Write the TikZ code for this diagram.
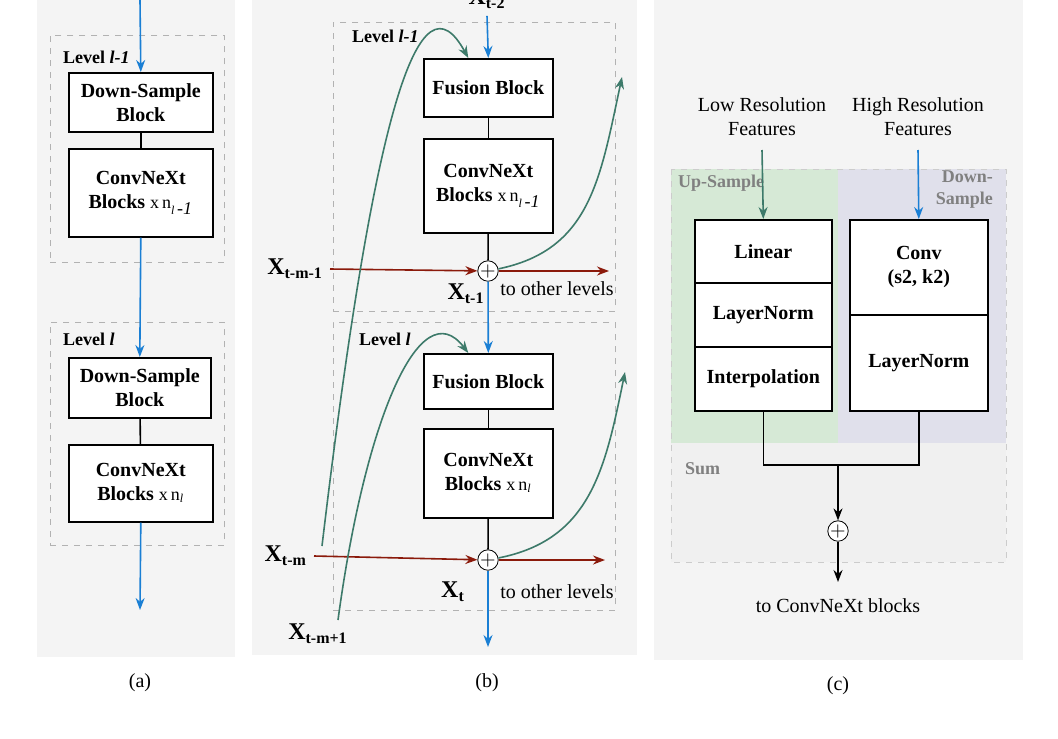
\documentclass[tikz,border=0pt]{standalone}
\usepackage{fontspec}
\setmainfont{Liberation Serif}
\usetikzlibrary{arrows.meta}
\definecolor{flowblue}{HTML}{1A7FD4}
\definecolor{flowred}{HTML}{8B1A0B}
\definecolor{flowgreen}{HTML}{3D7A6A}
\definecolor{panel}{HTML}{F4F4F4}
\begin{document}
\begin{tikzpicture}[
	x=0.5pt, y=-0.5pt,
	font=\bfseries,
	blk/.style={
		draw, thick, fill=white, align=center, anchor=north west
	},
	lvl/.style={
		draw=gray!60, dashed, anchor=north west
	},
	bl/.style={
		flowblue, thick, -{Stealth[length=6pt]}
	},
	rd/.style={
		flowred, thick, -{Stealth[length=6pt]}
	},
	gr/.style={
		flowgreen, thick, -{Stealth[length=6pt]}
	},
	sum/.style={
		draw, circle, fill=white, inner sep=0pt, minimum size=7pt
	},
	xl/.style={
		font=\bfseries\large
	}
	]
	\useasboundingbox (0,0) rectangle (1058,738);
	\clip (0,0) rectangle (1058,738);
	
	% panels
	\fill[panel] (37,0) rectangle (235,657);
	\fill[panel] (252,0) rectangle (637,655);
	\fill[panel] (654,0) rectangle (1023,660);
	\node[font=\normalfont] (capA) at (140,683) {(a)};
	\node[font=\normalfont] (capB) at (487,683) {(b)};
	\node[font=\normalfont] (capC) at (838,686) {(c)};
	
	% (a)
	\node[lvl, minimum width=87pt, minimum height=113.5pt] (LvA1) at (50,35) {};
	\node[anchor=west, font=\bfseries\small] at (56,57) {Level \textit{l-1}};
	\node[blk, minimum width=72pt, minimum height=29.5pt] (DsA1) at (68,72) {Down-Sample\\Block};
	\node[blk, minimum width=72pt, minimum height=44pt] (CnA1) at (68,148) {ConvNeXt\\Blocks {\normalfont\small x\,n$_{\mathit{l}\,\textit{-1}}$}};
	\node[lvl, minimum width=87pt, minimum height=111.5pt] (LvA2) at (50,322) {};
	\node[anchor=west, font=\bfseries\small] at (56,339) {Level \textit{l}};
	\node[blk, minimum width=71pt, minimum height=30pt] (DsA2) at (68,357) {Down-Sample\\Block};
	\node[blk, minimum width=72pt, minimum height=38.5pt] (CnA2) at (68,444) {ConvNeXt\\Blocks {\normalfont\small x\,n$_{\mathit{l}}$}};
	\coordinate (inA) at (140,0);
	\coordinate (outA) at (140,610);
	\draw[bl] (inA) -- (DsA1.north);
	\draw[thick] (DsA1) -- (CnA1);
	\draw[bl] (CnA1.south) -- (DsA2.north);
	\draw[thick] (DsA2) -- (CnA2);
	\draw[bl] (CnA2.south) -- (outA);
	
	% (b)
	\node[lvl, minimum width=141pt, minimum height=144.5pt] (LvB1) at (333,22) {};
	\node[anchor=west, font=\bfseries\small] at (345,36) {Level \textit{l-1}};
	\node[blk, minimum width=64.5pt, minimum height=29pt] (FuB1) at (423,58) {Fusion Block};
	\node[blk, minimum width=64.5pt, minimum height=47pt] (CnB1) at (423,138) {ConvNeXt\\Blocks {\normalfont\small x\,n$_{\mathit{l}\,\textit{-1}}$}};
	\node[sum] (SmB1) at (488,271) {$+$};
	\node[lvl, minimum width=141pt, minimum height=144pt] (LvB2) at (333,322) {};
	\node[anchor=west, font=\bfseries\small] at (352,339) {Level \textit{l}};
	\node[blk, minimum width=64.5pt, minimum height=27.5pt] (FuB2) at (423,353) {Fusion Block};
	\node[blk, minimum width=64.5pt, minimum height=44.5pt] (CnB2) at (423,428) {ConvNeXt\\Blocks {\normalfont\small x\,n$_{\mathit{l}}$}};
	\node[sum] (SmB2) at (488,560) {$+$};
	
	\node[xl] (Xt2) at (487,-1) {X\textsubscript{t-2}};
	\node[xl, anchor=east] (Xm1) at (330,269) {X\textsubscript{t-m-1}};
	\node[xl] (Xt1) at (466,294) {X\textsubscript{t-1}};
	\node[font=\normalfont] (Ot1) at (557,289) {to other levels};
	\node[xl, anchor=east] (Xm) at (314,556) {X\textsubscript{t-m}};
	\node[xl] (Xt) at (453,592) {X\textsubscript{t}};
	\node[font=\normalfont] (Ot2) at (557,592) {to other levels};
	\node[xl] (Xm2) at (318,634) {X\textsubscript{t-m+1}};
	\coordinate (OutR1) at (609,271);
	\coordinate (OutR2) at (605,560);
	\coordinate (OutG1) at (622,77);
	\coordinate (OutG2) at (625,372);
	\coordinate (OutB) at (488,647);
	
	\draw[bl] (Xt2.south) -- (FuB1.north);
	\draw[thick] (FuB1) -- (CnB1);
	\draw[thick] (CnB1) -- (SmB1);
	\draw[bl] (SmB1) -- (FuB2.north);
	\draw[thick] (FuB2) -- (CnB2);
	\draw[thick] (CnB2) -- (SmB2);
	\draw[bl] (SmB2) -- (OutB);
	\draw[rd] (Xm1.east) -- (SmB1);
	\draw[rd] (SmB1) -- (OutR1);
	\draw[rd] (Xm.east) -- (SmB2);
	\draw[rd] (SmB2) -- (OutR2);
	\draw[gr] (322,546) .. controls (375,100) and (420,-30) .. ([xshift=-10pt]FuB1.north);
	\draw[gr] (338,620) .. controls (365,420) and (420,290) .. ([xshift=-10pt]FuB2.north);
	\draw[gr] (SmB1) .. controls (590,250) and (600,180) .. (OutG1);
	\draw[gr] (SmB2) .. controls (590,540) and (605,470) .. (OutG2);
	
	% (c)
	\fill[green!30!gray!25] (671,169) rectangle (838,443);
	\fill[blue!20!gray!20] (838,169) rectangle (1006,443);
	\fill[gray!12] (671,443) rectangle (1006,562);
	\draw[gray!40, dashed] (671,169) rectangle (1006,562);
	\node[text=gray, anchor=west, font=\bfseries\small] at (671,183) {Up-Sample};
	\node[text=gray, align=right, anchor=east, font=\bfseries\small] at (1000,190) {Down-\\Sample};
	\node[text=gray, anchor=west, font=\bfseries\small] at (678,469) {Sum};
	\node[font=\normalfont, align=center] (LowF) at (762,117) {Low Resolution\\Features};
	\node[font=\normalfont, align=center] (HighF) at (918,117) {High Resolution\\Features};
	\node[blk, minimum width=68.5pt, minimum height=31.5pt] (Lin) at (694,219) {Linear};
	\node[blk, minimum width=68.5pt, minimum height=32pt] (LnU) at (694,282) {LayerNorm};
	\node[blk, minimum width=68.5pt, minimum height=32pt] (Itp) at (694,346) {Interpolation};
	\node[blk, minimum width=69pt, minimum height=47.5pt] (Cnv) at (849,219) {Conv\\(s2, k2)};
	\node[blk, minimum width=69pt, minimum height=48pt] (LnD) at (849,314) {LayerNorm};
	\node[sum, minimum size=10pt] (SmC) at (838,531) {$+$};
	\node[font=\normalfont] (ToC) at (838,606) {to ConvNeXt blocks};
	\coordinate (Mid) at (838,465);
	
	\draw[gr] (762,150) -- (Lin.north);
	\draw[bl] (918,150) -- (Cnv.north);
	\draw[thick] (Itp.south) |- (Mid) -| (LnD.south);
	\draw[thick, -{Stealth[length=6pt]}] (Mid) -- (SmC);
	\draw[thick, -{Stealth[length=6pt]}] (SmC) -- (838,582);
\end{tikzpicture}
\end{document}
